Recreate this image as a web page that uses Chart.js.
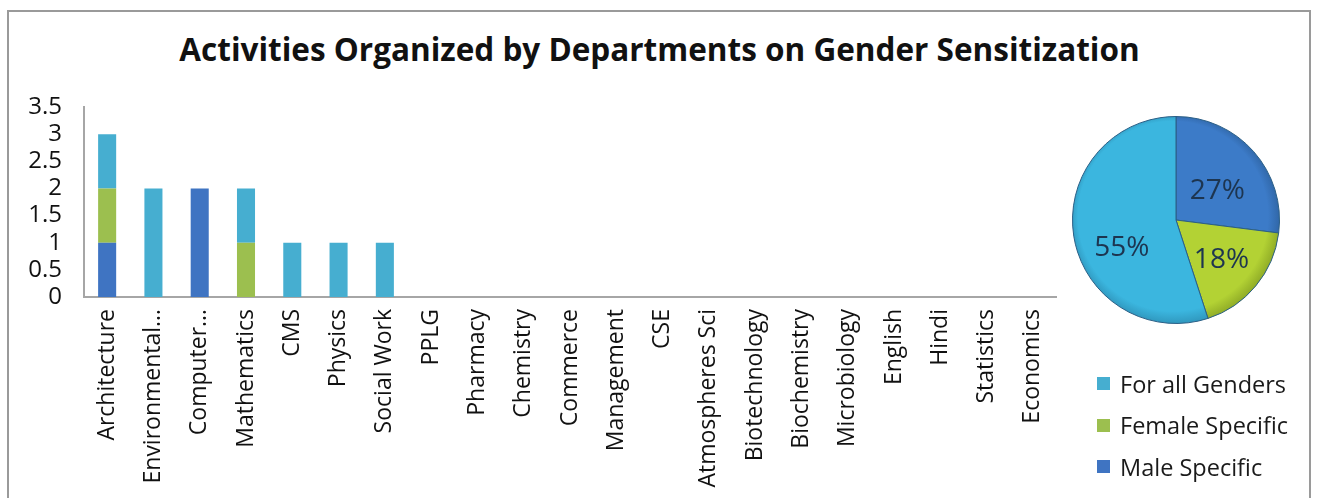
<!DOCTYPE html>
<html>
<head>
<meta charset="utf-8">
<script src="https://cdn.jsdelivr.net/npm/chart.js@4.4.1/dist/chart.umd.min.js"></script>
<style>
  body { margin: 0; background: #fff; font-family: "Open Sans", sans-serif; }
  #frame { position: absolute; left: 7px; top: 10px; width: 1304px; height: 500px;
           border: 2px solid #9a9a9a; border-bottom: none; box-sizing: border-box; }
  #title { position: absolute; left: 0; width: 1319px; top: 29px; line-height: 40px; text-align: center;
           font-size: 31.5px; font-weight: bold; color: #111; }
  #barBox { position: absolute; left: 0; top: 0; width: 1319px; height: 498px; }
  #pieBox { position: absolute; left: 1064px; top: 108px; width: 224px; height: 224px; }
  #legend { position: absolute; left: 1097px; top: 363px; }
  .item { height: 41.5px; display: flex; align-items: center; font-size: 23.5px; color: #1a1a1a; }
  .sw { width: 13px; height: 13px; margin-right: 10px; }
</style>
</head>
<body>
<div id="frame"></div>
<div id="title">Activities Organized by Departments on Gender Sensitization</div>
<div id="barBox"><canvas id="bars"></canvas></div>
<div id="pieBox"><canvas id="pie"></canvas></div>
<div id="legend"></div>
<script>
// departments on the x axis
var departments = ['Architecture', 'Environmental…', 'Computer…', 'Mathematics', 'CMS', 'Physics',
    'Social Work', 'PPLG', 'Pharmacy', 'Chemistry', 'Commerce', 'Management', 'CSE',
    'Atmospheres Sci', 'Biotechnology', 'Biochemistry', 'Microbiology', 'English', 'Hindi',
    'Statistics', 'Economics'];

var forAllGenders   = [1, 2, 0, 1, 1, 1, 1, 0, 0, 0, 0, 0, 0, 0, 0, 0, 0, 0, 0, 0, 0];
var femaleSpecific  = [1, 0, 0, 1, 0, 0, 0, 0, 0, 0, 0, 0, 0, 0, 0, 0, 0, 0, 0, 0, 0];
var maleSpecific    = [1, 0, 2, 0, 0, 0, 0, 0, 0, 0, 0, 0, 0, 0, 0, 0, 0, 0, 0, 0, 0];

var yTicks = [0, 0.5, 1, 1.5, 2, 2.5, 3, 3.5];

// pie (clockwise from the top)
var pieLabels = ['Male Specific', 'Female Specific', 'For all Genders'];
var piePercent = [27, 18, 55];

var legendNames = ['For all Genders', 'Female Specific', 'Male Specific'];

var barColors = { all: '#46aed0', female: '#9cbf4f', male: '#3f74c2' };
var pieColors = ['#3c7bc8', '#b3d234', '#3bb6df'];
var pieEdges  = ['#2a5c96', '#7f9a20', '#2a88ad'];

var font = '"Open Sans", sans-serif';

new Chart(document.getElementById('bars'), {
    type: 'bar',
    data: {
        labels: departments,
        datasets: [
            { label: 'Male Specific', data: maleSpecific, backgroundColor: barColors.male },
            { label: 'Female Specific', data: femaleSpecific, backgroundColor: barColors.female },
            { label: 'For all Genders', data: forAllGenders, backgroundColor: barColors.all }
        ]
    },
    options: {
        responsive: true,
        maintainAspectRatio: false,
        animation: false,
        layout: { padding: { top: 107, right: 263, left: 0, bottom: 0 } },
        plugins: { legend: { display: false }, tooltip: { enabled: false } },
        datasets: { bar: { categoryPercentage: 1, barPercentage: 0.39 } },
        scales: {
            x: {
                stacked: true,
                grid: { display: false, drawTicks: false },
                border: { color: '#a6a6a6', width: 2 },
                ticks: { minRotation: 90, maxRotation: 90, autoSkip: false, padding: 12,
                         color: '#111', font: { family: font, size: 23 } },
                afterFit: function (s) { s.height = 201; }
            },
            y: {
                stacked: true,
                min: 0, max: 3.5,
                afterBuildTicks: function (s) { s.ticks = yTicks.map(function (v) { return { value: v }; }); },
                grid: { display: false, drawTicks: false },
                border: { color: '#a6a6a6', width: 2 },
                ticks: { autoSkip: false, padding: 22, color: '#111', font: { family: font, size: 24 },
                         callback: function (v) { return String(v); } },
                afterFit: function (s) { s.width = 84; }
            }
        }
    }
});

// the 3-d pie in the picture puts its labels a little lower than the flat centroid
var labelNudge = [[-3, 10], [0, 2], [4, 19]];

var pieText = {
    id: 'pieText',
    afterDatasetsDraw: function (chart) {
        var ctx = chart.ctx;
        var meta = chart.getDatasetMeta(0);
        ctx.save();
        ctx.font = '28px ' + font;
        ctx.fillStyle = '#1d3550';
        ctx.textAlign = 'center';
        ctx.textBaseline = 'middle';
        meta.data.forEach(function (arc, i) {
            var mid = (arc.startAngle + arc.endAngle) / 2;
            var r = arc.outerRadius * 0.57;
            ctx.fillText(piePercent[i] + '%', arc.x + Math.cos(mid) * r + labelNudge[i][0],
                arc.y + Math.sin(mid) * r + labelNudge[i][1]);
        });
        ctx.restore();
    }
};

new Chart(document.getElementById('pie'), {
    type: 'pie',
    data: {
        labels: pieLabels,
        datasets: [{
            data: piePercent,
            backgroundColor: function (c) {
                var chart = c.chart, area = chart.chartArea;
                if (!area) return pieColors[c.dataIndex];
                var cx = (area.left + area.right) / 2, cy = (area.top + area.bottom) / 2;
                var g = chart.ctx.createRadialGradient(cx - 20, cy - 25, 10, cx, cy, 110);
                g.addColorStop(0, pieColors[c.dataIndex]);
                g.addColorStop(0.85, pieColors[c.dataIndex]);
                g.addColorStop(1, pieEdges[c.dataIndex]);
                return g;
            },
            borderColor: '#2b5f86',
            borderWidth: 1
        }]
    },
    options: {
        responsive: true,
        maintainAspectRatio: false,
        animation: false,
        layout: { padding: 8 },
        plugins: { legend: { display: false }, tooltip: { enabled: false } }
    },
    plugins: [pieText]
});

var legendColors = [barColors.all, barColors.female, barColors.male];
var lg = document.getElementById('legend');
legendNames.forEach(function (name, i) {
    var row = document.createElement('div');
    row.className = 'item';
    row.innerHTML = '<span class="sw" style="background:' + legendColors[i] + '"></span>' + name;
    lg.appendChild(row);
});
</script>
</body>
</html>
